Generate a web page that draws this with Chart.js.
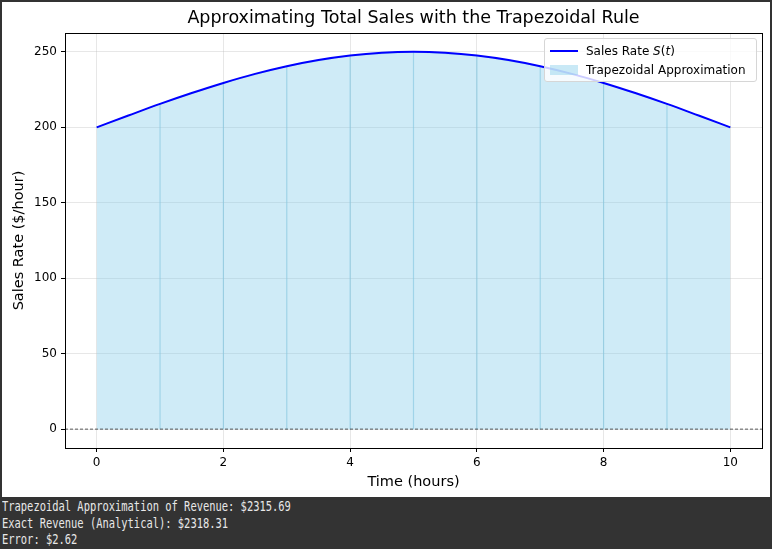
<!DOCTYPE html>
<html>
<head>
<meta charset="utf-8">
<script src="https://cdn.jsdelivr.net/npm/chart.js@4/dist/chart.umd.min.js"></script>
<style>
  html, body { margin:0; padding:0; background:#333333; }
  body { width:772px; height:549px; position:relative; overflow:hidden; }
  #wrap { position:absolute; left:2px; top:2px; width:768px; height:495px; background:#fff; }
  #legend { position:absolute; left:542px; top:36px; width:213px; height:44px; border:1px solid #d6d6d6; border-radius:3px; background:rgba(255,255,255,0.8); font-family:"DejaVu Sans", sans-serif; font-size:12px; color:#000; box-sizing:border-box; }
  .row { position:absolute; left:0; height:16px; line-height:16px; }
  .sw { position:absolute; left:5px; width:28px; }
  .lbl { position:absolute; left:41px; white-space:nowrap; }
  #console { position:absolute; left:2px; top:498px; font-family:"DejaVu Sans Mono", monospace; font-size:14px; line-height:16.5px; color:#e8e8e8; white-space:pre; transform:scaleX(0.745); transform-origin:left top; }
</style>
</head>
<body>
<div id="wrap"><canvas id="c" width="768" height="495"></canvas>
  <div id="legend">
    <div class="row" style="top:4px;width:100%"><div class="sw" style="top:7px;height:2px;background:#0000ff"></div><div class="lbl">Sales Rate <i>S</i>(<i>t</i>)</div></div>
    <div class="row" style="top:23px;width:100%"><div class="sw" style="top:3px;height:10px;background:rgba(135,206,235,0.45)"></div><div class="lbl">Trapezoidal Approximation</div></div>
  </div>
</div>
<div id="console">Trapezoidal Approximation of Revenue: $2315.69
Exact Revenue (Analytical): $2318.31
Error: $2.62</div>
<script>
// Sales-rate curve (t in hours, $/hour)
const curveT = [0,0.5,1,1.5,2,2.5,3,3.5,4,4.5,5,5.5,6,6.5,7,7.5,8,8.5,9,9.5,10];
const curveS = [200,207.8,215.5,222.7,229.4,235.4,240.5,244.6,247.6,249.4,250,249.4,247.6,244.6,240.5,235.4,229.4,222.7,215.5,207.8,200];
// Trapezoid nodes
const trapT = [0,1,2,3,4,5,6,7,8,9,10];
const trapS = [200,215.5,229.4,240.5,247.6,250,247.6,240.5,229.4,215.5,200];
// Tick labels
const xTicks = [0,2,4,6,8,10];
const yTicks = [0,50,100,150,200,250];
const titleText = 'Approximating Total Sales with the Trapezoidal Rule';

const curveData = curveT.map((t,i)=>({x:t,y:curveS[i]}));
const trapData = trapT.map((t,i)=>({x:t,y:trapS[i]}));
const edgeData = [];
trapT.forEach((t,i)=>{ if(i>0 && i<trapT.length-1){ edgeData.push({x:t,y:0},{x:t,y:trapS[i]},{x:t,y:null}); }});

const frame = {
  id:'frame',
  afterDraw(chart){
    const {ctx, chartArea:a} = chart;
    ctx.save(); ctx.strokeStyle='#000'; ctx.lineWidth=1;
    ctx.strokeRect(Math.round(a.left)+0.5, Math.round(a.top)+0.5, Math.round(a.right-a.left), Math.round(a.bottom-a.top));
    ctx.fillStyle='#000'; ctx.font='17.5px "DejaVu Sans"'; ctx.textAlign='center'; ctx.textBaseline='middle';
    ctx.fillText(titleText, (a.left+a.right)/2, 16.5);
    ctx.restore();
  }
};

new Chart(document.getElementById('c'), {
  type:'line',
  data:{ datasets:[
    { data:[{x:-0.5,y:0},{x:10.5,y:0}], borderColor:'rgba(0,0,0,0.8)', borderWidth:0.8, borderDash:[3,2], pointRadius:0, fill:false, order:1 },
    { data:curveData, borderColor:'#0000ff', borderWidth:2, pointRadius:0, tension:0.4, cubicInterpolationMode:'monotone', fill:false, order:0 },
    { data:edgeData, borderColor:'rgba(135,200,225,0.65)', borderWidth:1.2, pointRadius:0, spanGaps:false, fill:false, order:2 },
    { data:trapData, borderColor:'rgba(135,206,235,0.6)', borderWidth:1, pointRadius:0, tension:0, fill:'origin', backgroundColor:'rgba(135,206,235,0.4)', order:3 }
  ]},
  options:{
    responsive:false, animation:false, devicePixelRatio:1,
    layout:{ padding:{ left:0, right:8, top:31, bottom:0 } },
    plugins:{ legend:{ display:false }, tooltip:{ enabled:false }, title:{ display:false } },
    scales:{
      x:{ type:'linear', min:-0.5, max:10.5,
        afterBuildTicks(s){ s.ticks = xTicks.map(v=>({value:v})); },
        afterFit(s){ s.height = 49; },
        ticks:{ color:'#000', font:{ family:'DejaVu Sans', size:12 }, padding:4, maxRotation:0, callback:v=>String(v) },
        grid:{ color:'rgba(176,176,176,0.3)', tickColor:'#000', tickLength:4, drawOnChartArea:true },
        border:{ display:false },
        title:{ display:true, text:'Time (hours)', color:'#000', font:{ family:'DejaVu Sans', size:14.5 }, padding:{ top:2, bottom:6 } }
      },
      y:{ type:'linear', min:-12.5, max:262.5,
        afterBuildTicks(s){ s.ticks = yTicks.map(v=>({value:v})); },
        afterFit(s){ s.width = 63; },
        ticks:{ color:'#000', font:{ family:'DejaVu Sans', size:12 }, padding:4, callback:v=>String(v) },
        grid:{ color:'rgba(176,176,176,0.3)', tickColor:'#000', tickLength:4 },
        border:{ display:false },
        title:{ display:true, text:'Sales Rate ($/hour)', color:'#000', font:{ family:'DejaVu Sans', size:14.5 }, padding:{ top:9, bottom:4 } }
      }
    }
  },
  plugins:[frame]
});
</script>
</body>
</html>
